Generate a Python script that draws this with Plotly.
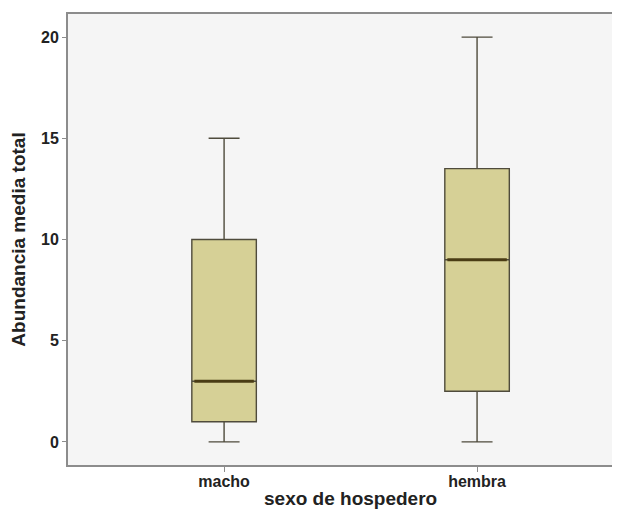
import plotly.graph_objects as go

categories = ["macho", "hembra"]
mins = [0, 0]
q1s = [1, 2.5]
medians = [3, 9]
q3s = [10, 13.5]
maxs = [15, 20]
y_ticks = [0, 5, 10, 15, 20]

pos = list(range(len(categories)))
BOX_W = 0.255

fig = go.Figure()
fig.add_trace(go.Box(
    x=pos, q1=q1s, median=medians, q3=q3s,
    lowerfence=mins, upperfence=maxs,
    width=BOX_W, whiskerwidth=0.48,
    fillcolor="#d6d096", line=dict(color="#4f4b3c", width=1.4),
    boxpoints=False, showlegend=False, hoverinfo="skip",
))
for i, m in zip(pos, medians):
    fig.add_trace(go.Scatter(
        x=[i - BOX_W / 2 + 0.01, i + BOX_W / 2 - 0.01], y=[m, m],
        mode="lines", line=dict(color="#4a3c14", width=3),
        showlegend=False, hoverinfo="skip",
    ))

font = "Liberation Sans, Arial, sans-serif"
# page body has an 8px default margin; the plot area is meant to run off the right edge of the window
fig.update_layout(
    width=620, height=501,
    margin=dict(l=60, r=8, t=6, b=44),
    paper_bgcolor="white", plot_bgcolor="#f5f5f5",
    font=dict(family=font, color="#222", size=16),
    xaxis=dict(
        range=[-0.617, 1.565], tickmode="array", tickvals=pos, ticktext=[f"<b>{c}</b>" for c in categories],
        showline=True, linecolor="#8c8c8c", linewidth=2, mirror=True,
        ticks="outside", ticklen=5, tickcolor="#8c8c8c", showgrid=False, zeroline=False,
        tickfont=dict(size=16, family=font, color="#222"), ticklabelstandoff=-4,
        automargin=False,
    ),
    yaxis=dict(
        range=[-1.14, 21.14], tickmode="array", tickvals=y_ticks, ticktext=[f"<b>{t}</b>" for t in y_ticks],
        showline=True, linecolor="#8c8c8c", linewidth=2,
        ticks="outside", ticklen=4, tickcolor="#8c8c8c", showgrid=False, zeroline=False,
        tickfont=dict(size=16, family=font, color="#222"),
        title=dict(text="<b>Abundancia media total</b>", font=dict(size=19, family=font, color="#222"), standoff=14),
        automargin=False,
    ),
    annotations=[dict(
        text="<b>sexo de hospedero</b>", xref="paper", yref="paper", x=0.511, y=0,
        xanchor="center", yanchor="middle", yshift=-33, showarrow=False,
        font=dict(size=19, family=font, color="#222"),
    )],
)
fig.write_html("out.html")
